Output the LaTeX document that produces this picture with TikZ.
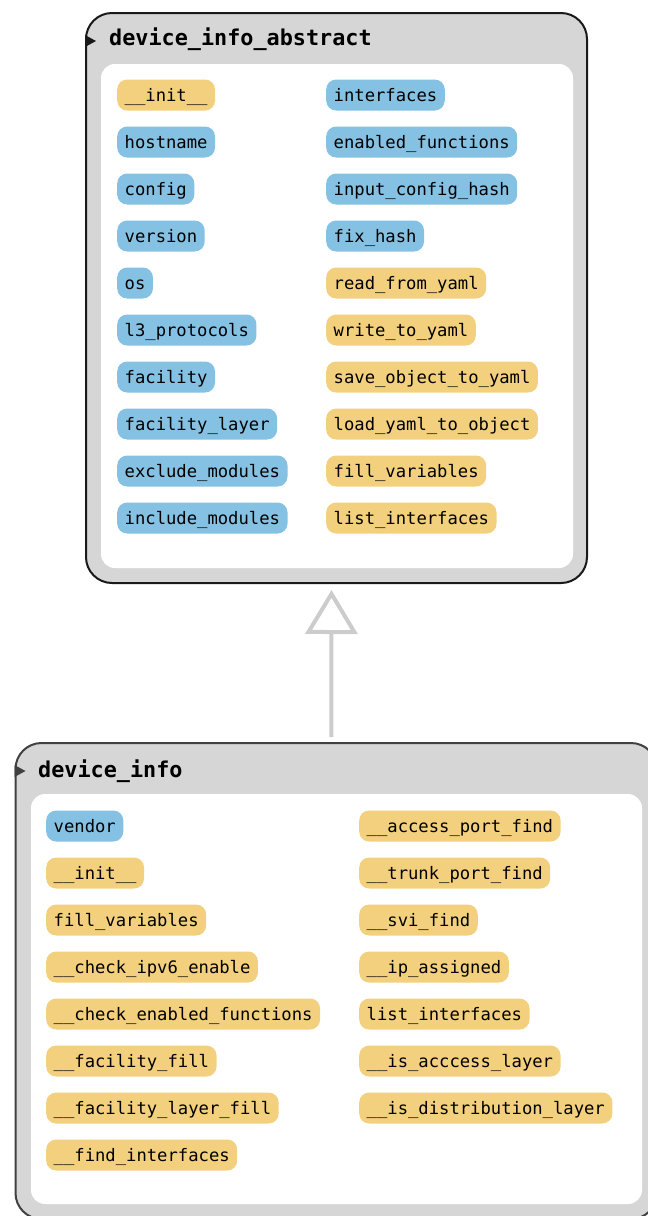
\documentclass[tikz,border=0pt]{standalone}
\usepackage{fontspec}
\setmonofont{DejaVu Sans Mono}
\usepackage{tikz}
\usetikzlibrary{arrows.meta}
\definecolor{attrblue}{HTML}{85C1E3}
\definecolor{methyellow}{HTML}{F3D07D}
\definecolor{framegray}{HTML}{D6D6D6}

\begin{document}
\begin{tikzpicture}
  [x=1pt,y=-1pt,
   every node/.style={font=\ttfamily\fontsize{17.2}{20}\selectfont},
   klass/.style={draw,line width=2pt,fill=framegray,rounded corners=26pt},
   body/.style={fill=white,rounded corners=14pt},
   clsname/.style={font=\ttfamily\bfseries\fontsize{21.8}{26}\selectfont,anchor=base west,inner sep=0pt},
   attr/.style={fill=attrblue,rounded corners=10pt,anchor=west,inner xsep=7.5pt,inner ysep=0pt,
                minimum height=31pt,text height=14pt,text depth=2pt},
   meth/.style={attr,fill=methyellow},
   inherit/.style={draw=black!20,line width=4pt,-{Triangle[open,length=44pt,width=52pt]}}]
  \useasboundingbox (0,0) rectangle (648,1216);

  % base class
  \node[klass,draw=black!90,minimum width=501pt,minimum height=570pt] (abstract) at (336.5,298) {};
  \node[body,minimum width=472pt,minimum height=504pt] (abody) at (337,316) {};
  \node[clsname] (aname) at (109,45) {device\_info\_abstract};
  \fill[black!90] (85,35) -- (96,41) -- (85,47) -- cycle;

  \node[meth] (a1)  at (117,95)  {\_\_init\_\_};
  \node[attr] (a2)  at (117,142) {hostname};
  \node[attr] (a3)  at (117,189) {config};
  \node[attr] (a4)  at (117,236) {version};
  \node[attr] (a5)  at (117,283) {os};
  \node[attr] (a6)  at (117,330) {l3\_protocols};
  \node[attr] (a7)  at (117,377) {facility};
  \node[attr] (a8)  at (117,424) {facility\_layer};
  \node[attr] (a9)  at (117,471) {exclude\_modules};
  \node[attr] (a10) at (117,518) {include\_modules};

  \node[attr] (a11) at (326,95)  {interfaces};
  \node[attr] (a12) at (326,142) {enabled\_functions};
  \node[attr] (a13) at (326,189) {input\_config\_hash};
  \node[attr] (a14) at (326,236) {fix\_hash};
  \node[meth] (a15) at (326,283) {read\_from\_yaml};
  \node[meth] (a16) at (326,330) {write\_to\_yaml};
  \node[meth] (a17) at (326,377) {save\_object\_to\_yaml};
  \node[meth] (a18) at (326,424) {load\_yaml\_to\_object};
  \node[meth] (a19) at (326,471) {fill\_variables};
  \node[meth] (a20) at (326,518) {list\_interfaces};

  % derived class
  \node[klass,draw=black!75,minimum width=641.5pt,minimum height=476pt] (info) at (336.25,981) {};
  \node[body,minimum width=611pt,minimum height=410pt] (ibody) at (336.5,999) {};
  \node[clsname] (iname) at (38,777) {device\_info};
  \fill[black!75] (14.5,765) -- (25.5,771) -- (14.5,777) -- cycle;

  \node[attr] (b1)  at (46,826)  {vendor};
  \node[meth] (b2)  at (46,873)  {\_\_init\_\_};
  \node[meth] (b3)  at (46,920)  {fill\_variables};
  \node[meth] (b4)  at (46,967)  {\_\_check\_ipv6\_enable};
  \node[meth] (b5)  at (46,1014) {\_\_check\_enabled\_functions};
  \node[meth] (b6)  at (46,1061) {\_\_facility\_fill};
  \node[meth] (b7)  at (46,1108) {\_\_facility\_layer\_fill};
  \node[meth] (b8)  at (46,1155) {\_\_find\_interfaces};

  \node[meth] (b9)  at (359,826)  {\_\_access\_port\_find};
  \node[meth] (b10) at (359,873)  {\_\_trunk\_port\_find};
  \node[meth] (b11) at (359,920)  {\_\_svi\_find};
  \node[meth] (b12) at (359,967)  {\_\_ip\_assigned};
  \node[meth] (b13) at (359,1014) {list\_interfaces};
  \node[meth] (b14) at (359,1061) {\_\_is\_acccess\_layer};
  \node[meth] (b15) at (359,1108) {\_\_is\_distribution\_layer};

  \draw[inherit,shorten <=5pt,shorten >=6pt] ([xshift=-5pt]info.north) -- ([xshift=-5pt]abstract.south);
\end{tikzpicture}
\end{document}
